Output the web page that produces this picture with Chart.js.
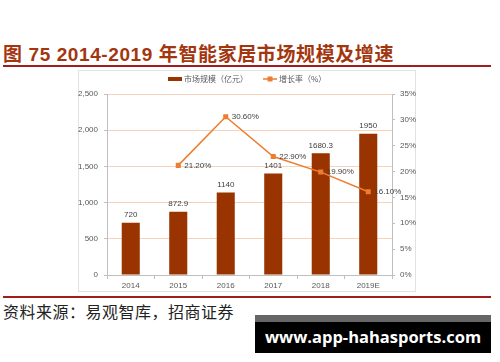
<!DOCTYPE html>
<html>
<head>
<meta charset="utf-8">
<script src="https://cdn.jsdelivr.net/npm/chart.js@4.4.0/dist/chart.umd.min.js"></script>
<style>
  body { margin: 0; width: 500px; height: 362px; background: #fff; position: relative; overflow: hidden; }
  #title { position: absolute; left: 3px; top: 39px; font: bold 19px "Liberation Sans", "Noto Sans CJK SC", sans-serif; color: #a3360f; white-space: nowrap; letter-spacing: 0.6px; }
  .rule { position: absolute; left: 3px; width: 488px; height: 2px; background: #a01d1d; }
  #box { position: absolute; left: 78px; top: 70px; width: 338px; height: 222px; border: 1px solid #e2e2e2; box-sizing: border-box; }
  #wrap { position: absolute; left: 78px; top: 70px; width: 338px; height: 222px; }
  #source { position: absolute; left: 3px; top: 299px; font: 16px "Noto Sans CJK SC", sans-serif; color: #222; letter-spacing: 0.5px; }
  #wm { position: absolute; left: 255px; top: 315px; width: 236px; height: 38px; background: #000; }
  #wm .strip { height: 7px; background: #666; }
  #wm .txt { color: #fff; font: bold 16.5px "Open Sans", sans-serif; text-align: center; line-height: 29px; }
</style>
</head>
<body>
<div id="title">图 75 2014-2019 年智能家居市场规模及增速</div>
<div class="rule" style="top:65px"></div>
<div id="box"></div>
<div id="wrap"><canvas id="chart" width="338" height="222"></canvas></div>
<div class="rule" style="top:296px"></div>
<div id="source">资料来源：易观智库，招商证券</div>
<div id="wm"><div class="strip"></div><div class="txt">www.app-hahasports.com</div></div>
<script>
// données du graphique
const years = ['2014', '2015', '2016', '2017', '2018', '2019E'];
const marketSize = [720, 872.9, 1140, 1401, 1680.3, 1950];
const growthRate = [null, 21.2, 30.6, 22.9, 19.9, 16.1];
const sizeLabels = ['720', '872.9', '1140', '1401', '1680.3', '1950'];
const rateLabels = ['', '21.20%', '30.60%', '22.90%', '19.90%', '16.10%'];
const legendNames = ['市场规模（亿元）', '增长率（%）'];

const barColor = '#993300';
const lineColor = '#ed7d31';
const axisColor = '#bfbfbf';
const tickFont = { family: 'Liberation Sans', size: 8 };

// etiquettes des valeurs
const valueLabels = {
    id: 'valueLabels',
    afterDatasetsDraw(chart) {
        const ctx = chart.ctx;
        ctx.save();
        ctx.font = '8px "Liberation Sans"';
        ctx.fillStyle = '#404040';
        const bars = chart.getDatasetMeta(0).data;
        ctx.textAlign = 'center';
        ctx.textBaseline = 'bottom';
        bars.forEach((b, i) => ctx.fillText(sizeLabels[i], b.x, b.y - 4));
        const pts = chart.getDatasetMeta(1).data;
        ctx.textAlign = 'left';
        ctx.textBaseline = 'middle';
        pts.forEach((p, i) => {
            if (growthRate[i] == null) return;
            ctx.fillText(rateLabels[i], p.x + 6, p.y);
        });
        ctx.restore();
    }
};

// légende dessinée à la main
const legendPlugin = {
    id: 'legendPlugin',
    afterDraw(chart) {
        const ctx = chart.ctx;
        ctx.save();
        const y = 9;
        ctx.fillStyle = barColor;
        ctx.fillRect(90, y - 2, 14, 4);
        ctx.font = '8px "Noto Sans CJK SC"';
        ctx.fillStyle = '#595959';
        ctx.textBaseline = 'middle';
        ctx.fillText(legendNames[0], 106, y);
        ctx.strokeStyle = lineColor;
        ctx.lineWidth = 1.5;
        ctx.beginPath();
        ctx.moveTo(185, y);
        ctx.lineTo(199, y);
        ctx.stroke();
        ctx.fillStyle = lineColor;
        ctx.fillRect(189.5, y - 2.5, 5, 5);
        ctx.fillStyle = '#595959';
        ctx.fillText(legendNames[1], 201, y);
        ctx.restore();
    }
};

const config = {
    type: 'bar',
    data: {
        labels: years,
        datasets: [
            {
                type: 'bar',
                label: legendNames[0],
                data: marketSize,
                backgroundColor: barColor,
                barPercentage: 0.76,
                categoryPercentage: 0.5,
                yAxisID: 'y',
                order: 1
            },
            {
                type: 'line',
                label: legendNames[1],
                data: growthRate,
                borderColor: lineColor,
                backgroundColor: lineColor,
                borderWidth: 1.5,
                pointStyle: 'rect',
                pointRadius: 2.5,
                tension: 0,
                yAxisID: 'y1',
                order: 0
            }
        ]
    },
    options: {
        responsive: false,
        animation: false,
        layout: { padding: { top: 24, left: 0, right: 0, bottom: 0 } },
        plugins: { legend: { display: false }, tooltip: { enabled: false } },
        scales: {
            x: {
                grid: { offset: true, drawOnChartArea: false, drawTicks: true, tickLength: 4, color: axisColor },
                border: { color: axisColor },
                ticks: { font: tickFont, color: '#595959', padding: 2, maxRotation: 0 },
                afterFit(s) { s.height = 17; }
            },
            y: {
                position: 'left',
                min: 0, max: 2500,
                ticks: { stepSize: 500, font: tickFont, color: '#595959', padding: 6 },
                grid: { color: '#f6d3bd', borderDash: [3, 3], tickColor: axisColor, tickLength: 3, tickBorderDash: [] },
                border: { color: axisColor },
                afterFit(s) { s.width = 29; }
            },
            y1: {
                position: 'right',
                min: 0, max: 35,
                ticks: { stepSize: 5, font: tickFont, color: '#595959', padding: 5, callback: v => v + '%' },
                grid: { drawOnChartArea: false, color: axisColor, tickLength: 3 },
                border: { color: axisColor },
                afterFit(s) { s.width = 24; }
            }
        }
    },
    plugins: [valueLabels, legendPlugin]
};

window.onload = function () {
    const ctx = document.getElementById('chart').getContext('2d');
    window.myChart = new Chart(ctx, config);
};
</script>
</body>
</html>
